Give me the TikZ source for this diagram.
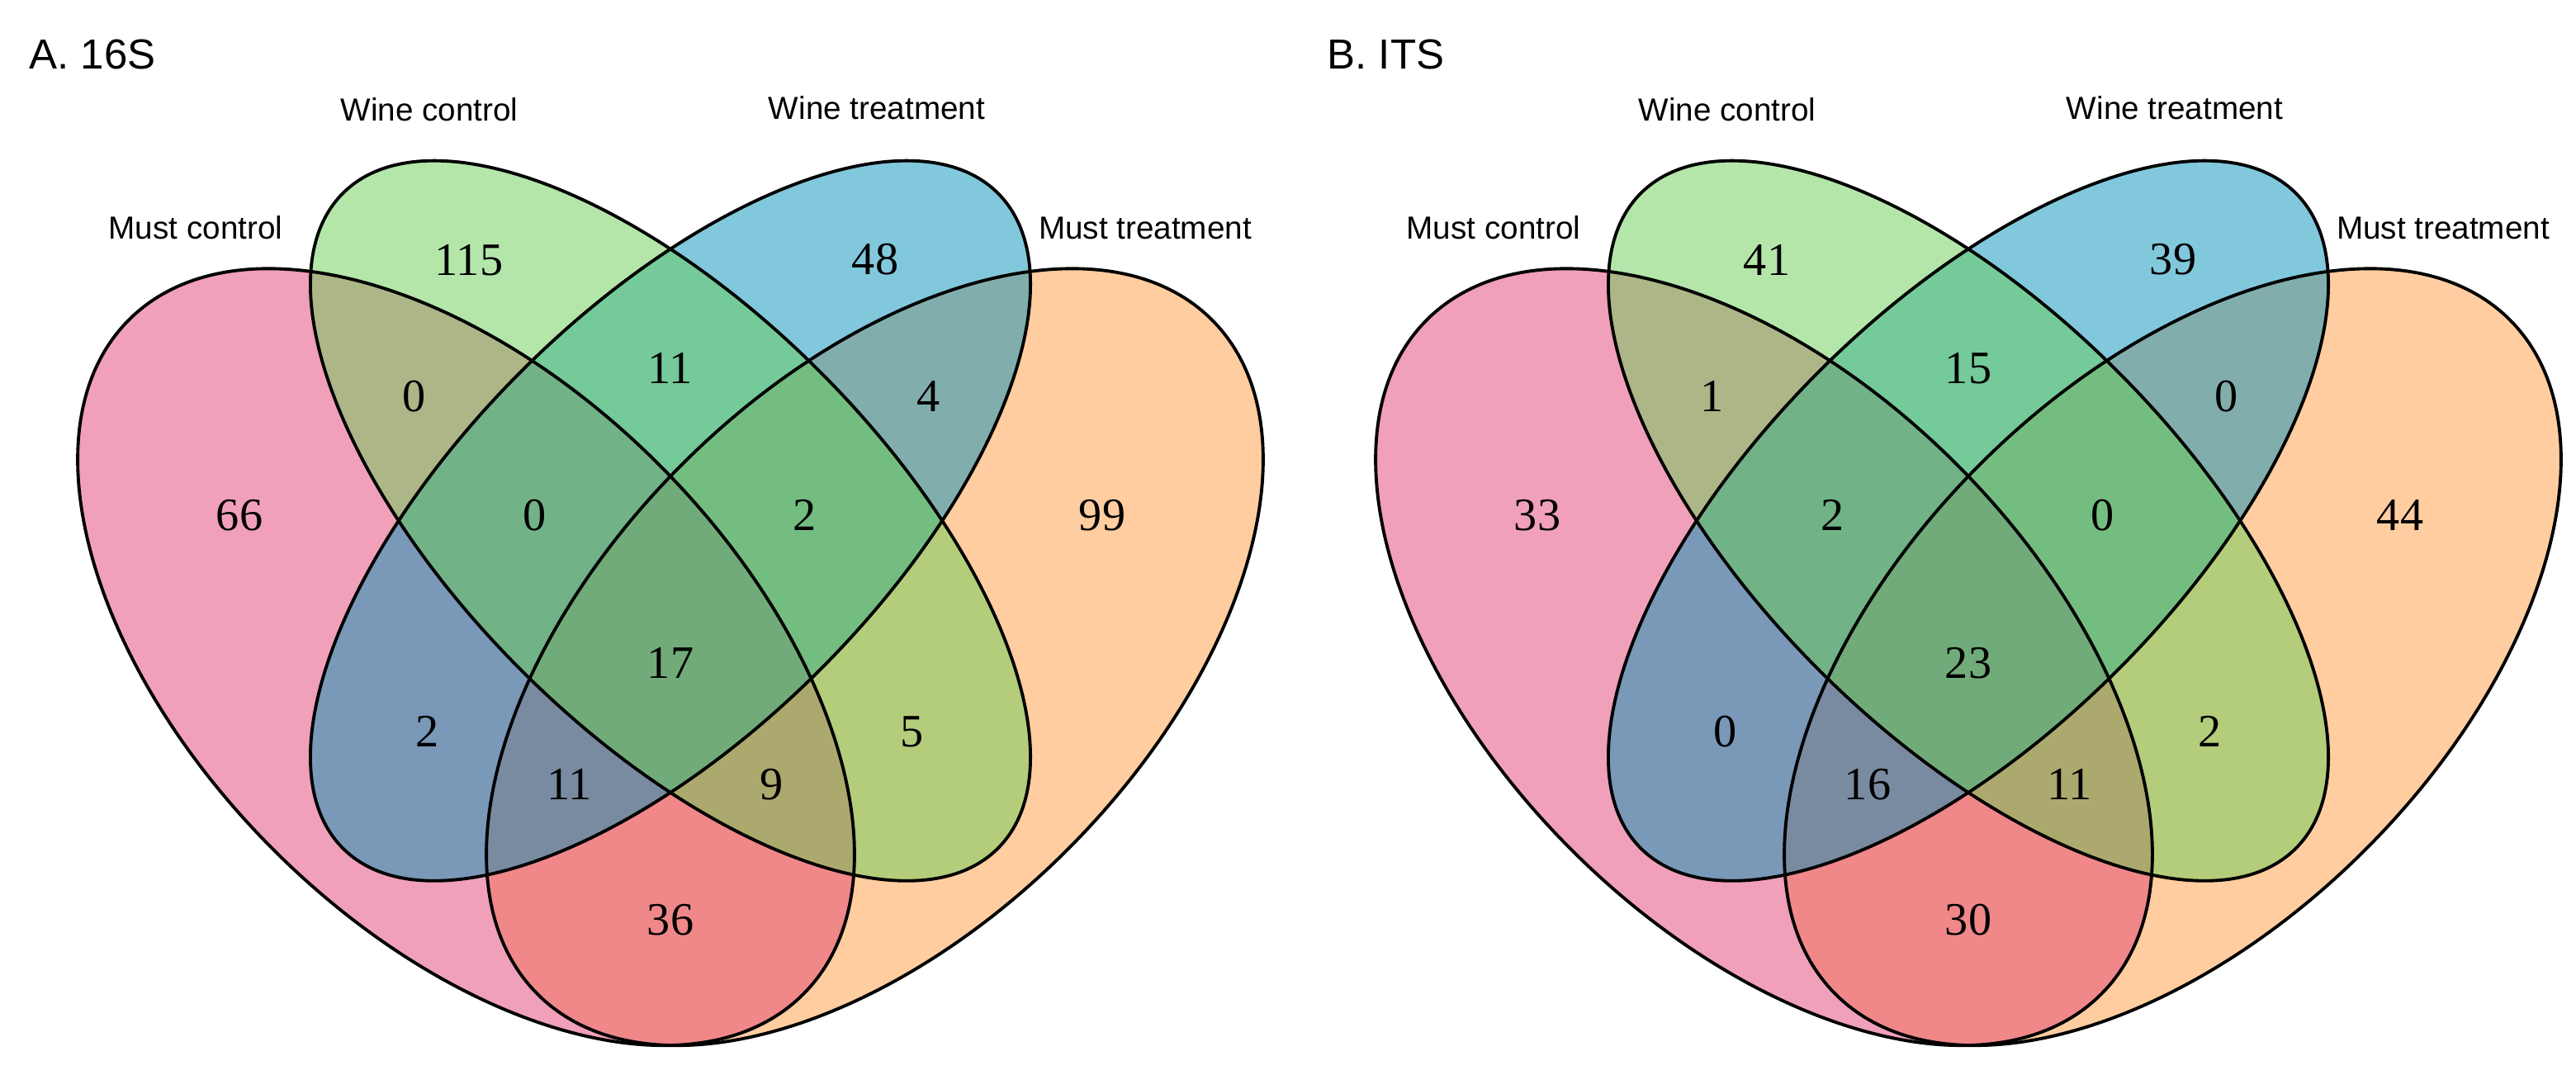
\documentclass[tikz,border=0pt]{standalone}
\usepackage{fontspec}
\setmainfont{Liberation Serif}
\newfontfamily\labelfont{Liberation Sans}
\definecolor{mustc}{RGB}{225,65,115}
\definecolor{mustt}{RGB}{255,155,65}
\definecolor{winet}{RGB}{5,145,185}
\definecolor{winec}{RGB}{105,205,85}
\tikzset{
  set/.style={fill opacity=0.5},
  rim/.style={draw=black, line width=1.1pt},
  num/.style={inner sep=0pt, font=\fontsize{16}{18}\selectfont},
  lab/.style={inner sep=0pt, font=\labelfont\fontsize{11}{13}\selectfont},
  title/.style={inner sep=0pt, anchor=west, font=\labelfont\fontsize{14.5}{17}\selectfont}
}
% four sets, unit square coordinates
\newcommand\quadsets{%
  \begin{scope}[x=16.5cm, y=16.5cm, xshift=-0.13cm, yshift=-2.7025cm]
    \fill[set, mustt, rotate around={45:(0.65,0.47)}] (0.65,0.47) ellipse [x radius=0.35, y radius=0.2];
    \fill[set, mustc, rotate around={135:(0.35,0.47)}] (0.35,0.47) ellipse [x radius=0.35, y radius=0.2];
    \fill[set, winet, rotate around={45:(0.5,0.57)}] (0.5,0.57) ellipse [x radius=0.34, y radius=0.155];
    \fill[set, winec, rotate around={135:(0.5,0.57)}] (0.5,0.57) ellipse [x radius=0.34, y radius=0.155];
    \draw[rim, rotate around={135:(0.35,0.47)}] (0.35,0.47) ellipse [x radius=0.35, y radius=0.2];
    \draw[rim, rotate around={45:(0.65,0.47)}] (0.65,0.47) ellipse [x radius=0.35, y radius=0.2];
    \draw[rim, rotate around={45:(0.5,0.57)}] (0.5,0.57) ellipse [x radius=0.34, y radius=0.155];
    \draw[rim, rotate around={135:(0.5,0.57)}] (0.5,0.57) ellipse [x radius=0.34, y radius=0.155];
  \end{scope}}
\newcommand\setlabels[1]{%
  \node[lab] (#1wc) at (5.20,11.68) {Wine control};
  \node[lab] (#1wt) at (10.62,11.70) {Wine treatment};
  \node[lab] (#1mc) at (2.37,10.25) {Must control};
  \node[lab] (#1mt) at (13.87,10.25) {Must treatment};}

\begin{document}
\begin{tikzpicture}
  \useasboundingbox (0,0) rectangle (31.2,13.01);

  % A. 16S
  \begin{scope}
    \quadsets
    \setlabels{a}
    \node[title] (atitle) at (0.35,12.35) {A. 16S};
    \foreach \p/\v [count=\i] in {(5.68,9.86)/115, (5.02,8.21)/0, (8.12,8.55)/11,
        (10.60,9.87)/48, (11.25,8.21)/4, (2.90,6.77)/66, (6.48,6.77)/0,
        (9.75,6.77)/2, (13.35,6.77)/99, (8.12,4.98)/17, (5.18,4.15)/2,
        (11.05,4.15)/5, (6.90,3.51)/11, (9.35,3.51)/9, (8.12,1.87)/36}
      \node[num] (a\i) at \p {\v};
  \end{scope}

  % B. ITS
  \begin{scope}[xshift=15.72cm]
    \quadsets
    \setlabels{b}
    \node[title] (btitle) at (0.35,12.35) {B. ITS};
    \foreach \p/\v [count=\i] in {(5.68,9.86)/41, (5.02,8.21)/1, (8.12,8.55)/15,
        (10.60,9.87)/39, (11.25,8.21)/0, (2.90,6.77)/33, (6.48,6.77)/2,
        (9.75,6.77)/0, (13.35,6.77)/44, (8.12,4.98)/23, (5.18,4.15)/0,
        (11.05,4.15)/2, (6.90,3.51)/16, (9.35,3.51)/11, (8.12,1.87)/30}
      \node[num] (b\i) at \p {\v};
  \end{scope}
\end{tikzpicture}
\end{document}
